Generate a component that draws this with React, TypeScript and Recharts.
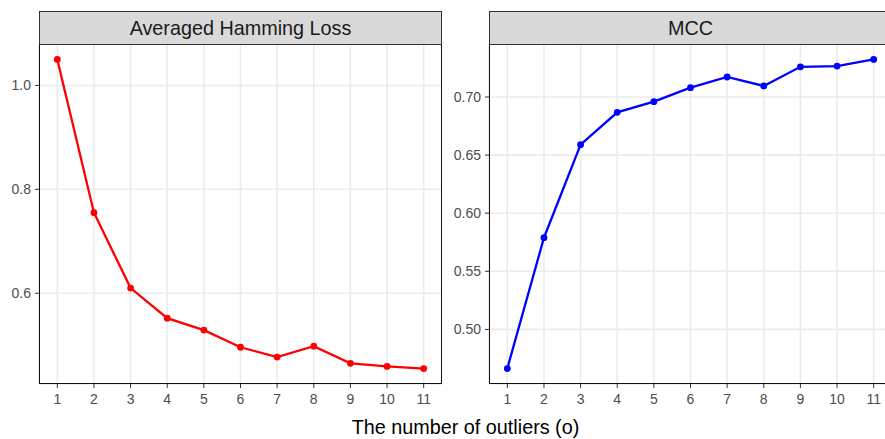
import React from "react";
import { LineChart, Line, XAxis, YAxis, CartesianGrid } from "recharts";

const outliers = [1, 2, 3, 4, 5, 6, 7, 8, 9, 10, 11];
const hammingLoss = [1.05, 0.755, 0.61, 0.552, 0.529, 0.496, 0.477, 0.498, 0.465, 0.459, 0.455];
const mcc = [0.4663, 0.5789, 0.659, 0.6868, 0.696, 0.708, 0.7172, 0.7095, 0.726, 0.7266, 0.7323];
const hammingTicks = [0.6, 0.8, 1.0];
const mccTicks = [0.5, 0.55, 0.6, 0.65, 0.7];
const panelTitles = ["Averaged Hamming Loss", "MCC"];
const xTitle = "The number of outliers (o)";

const FONT = "'Liberation Sans', Arial, Helvetica, sans-serif";

function expand(vals: number[]): [number, number] {
  const mn = Math.min(...vals);
  const mx = Math.max(...vals);
  const pad = (mx - mn) * 0.05;
  return [mn - pad, mx + pad];
}

const PLOT_TOP = 44;
const PLOT_H = 340;
const PLOT_W = 403;
const STRIP_TOP = 11;

type PanelProps = {
  left: number;
  yAxisWidth: number;
  values: number[];
  ticks: number[];
  digits: number;
  color: string;
  title: string;
};

function Panel({ left, yAxisWidth, values, ticks, digits, color, title }: PanelProps) {
  const data = outliers.map((o, i) => ({ o, v: values[i] }));
  const width = yAxisWidth + PLOT_W;
  const tickStyle = { fontSize: 14, fill: "#4D4D4D", fontFamily: FONT };
  return (
    <div style={{ position: "absolute", left, top: 0, width, height: 439 }}>
      <LineChart
        width={width}
        height={439}
        data={data}
        margin={{ top: PLOT_TOP, right: 0, bottom: 0, left: 0 }}
      >
        <CartesianGrid stroke="#EBEBEB" strokeWidth={1.6} />
        <XAxis
          dataKey="o"
          type="number"
          domain={[0.5, 11.5]}
          ticks={outliers}
          allowDataOverflow
          height={439 - PLOT_TOP - PLOT_H}
          axisLine={false}
          tickLine={{ stroke: "#333333" }}
          tickSize={4}
          tickMargin={6}
          tick={tickStyle}
          interval={0}
        />
        <YAxis
          type="number"
          domain={expand(values)}
          ticks={ticks}
          allowDataOverflow
          width={yAxisWidth}
          axisLine={false}
          tickLine={{ stroke: "#333333" }}
          tickSize={4}
          tickMargin={4}
          tick={tickStyle}
          tickFormatter={(v: number) => v.toFixed(digits)}
          interval={0}
        />
        <Line
          type="linear"
          dataKey="v"
          stroke={color}
          strokeWidth={2.3}
          dot={{ r: 3.4, fill: color, stroke: color, strokeWidth: 0 }}
          activeDot={false}
          isAnimationActive={false}
        />
      </LineChart>
      <div
        style={{
          position: "absolute",
          left: yAxisWidth,
          top: PLOT_TOP,
          width: PLOT_W,
          height: PLOT_H,
          border: "1.2px solid #111111",
          boxSizing: "border-box",
          pointerEvents: "none",
        }}
      />
      <div
        style={{
          position: "absolute",
          left: yAxisWidth,
          top: STRIP_TOP,
          width: PLOT_W,
          height: PLOT_TOP - STRIP_TOP + 1,
          background: "#D9D9D9",
          border: "1.2px solid #333333",
          boxSizing: "border-box",
          display: "flex",
          alignItems: "center",
          justifyContent: "center",
          fontFamily: FONT,
          fontSize: 19.8,
          color: "#1A1A1A",
          whiteSpace: "nowrap",
        }}
      >
        {title}
      </div>
    </div>
  );
}

export default function App() {
  return (
    <div
      style={{
        position: "absolute",
        left: 0,
        top: 0,
        width: 885,
        height: 439,
        overflow: "hidden",
        background: "#FFFFFF",
      }}
    >
      <Panel
        left={0}
        yAxisWidth={39}
        values={hammingLoss}
        ticks={hammingTicks}
        digits={1}
        color="#FF0000"
        title={panelTitles[0]}
      />
      <Panel
        left={440}
        yAxisWidth={49}
        values={mcc}
        ticks={mccTicks}
        digits={2}
        color="#0000FF"
        title={panelTitles[1]}
      />
      <div
        style={{
          position: "absolute",
          left: 39,
          width: 853,
          top: 417,
          lineHeight: "20px",
          textAlign: "center",
          fontFamily: FONT,
          fontSize: 19.8,
          color: "#000000",
          whiteSpace: "nowrap",
        }}
      >
        {xTitle}
      </div>
    </div>
  );
}
